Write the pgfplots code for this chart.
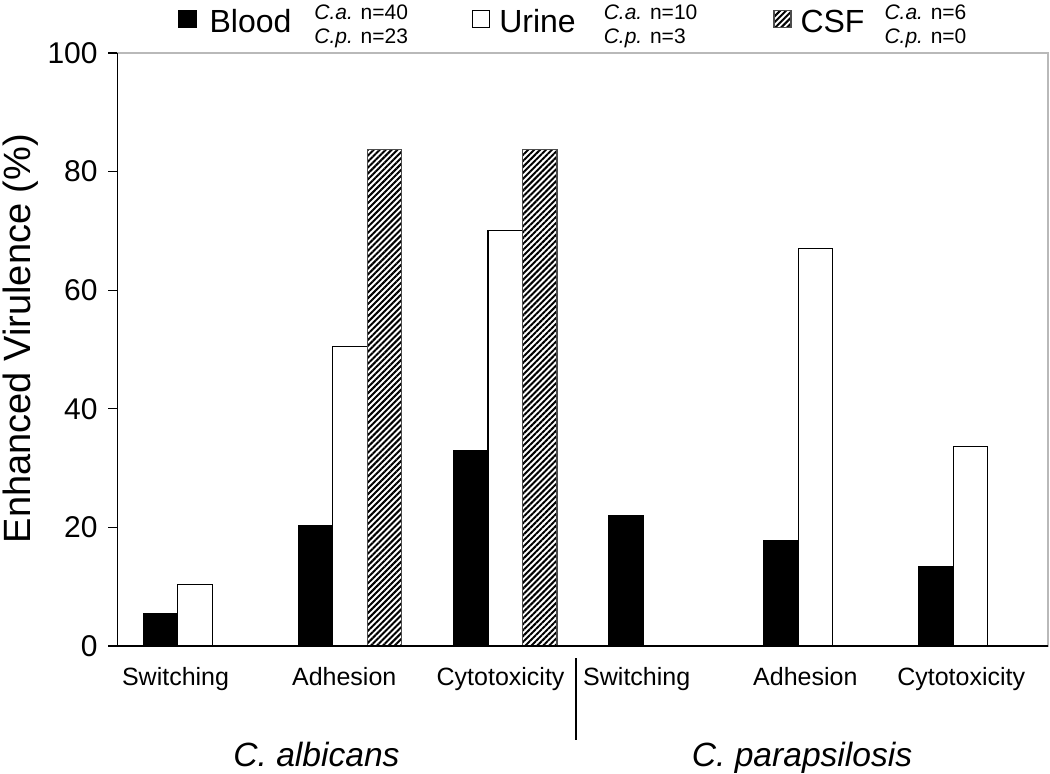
\documentclass[border=0pt]{standalone}
\usepackage{fontspec}
\setmainfont{Liberation Sans}
\usepackage{pgfplots}
\pgfplotsset{compat=1.18}
\usetikzlibrary{patterns.meta}
\newcommand\nlab[2]{{\fontsize{10.5}{12}\selectfont\begin{tabular}{@{}l@{}}\textit{C.a.} n=#1\\\textit{C.p.} n=#2\end{tabular}}}
\begin{document}
\begin{tikzpicture}
\begin{axis}[
 name=ax,
 scale only axis,
 width=465.25pt, height=296.5pt,
 xmin=-0.5, xmax=5.5, ymin=0, ymax=100,
 xtick=\empty,
 ytick={0,20,40,60,80,100},
 ytick pos=left,
 tick align=outside,
 major tick length=4.5pt,
 y tick style={black, line width=0.6pt},
 axis line style={draw=gray!55, line width=0.8pt},
 /pgf/number format/assume math mode=true,
 yticklabel style={font=\fontsize{15}{17}\selectfont, anchor=east, inner sep=0pt, xshift=-5.25pt},
 ylabel={Enhanced Virulence (\%)},
 ylabel style={font=\fontsize{19}{21}\selectfont, at={(rel axis cs:-0.1045,0.5186)}, anchor=center},
 ybar, bar width=0.2224,
 clip=false,
 legend columns=3,
 legend image code/.code={\draw[#1] (0pt,-4.1pt) rectangle (8.5pt,4.4pt);},
 legend style={draw=none, fill=none, inner sep=0pt, column sep=0pt, nodes={inner sep=0pt},
   font=\fontsize{16}{19}\selectfont, at={(rel axis cs:0,1)}, anchor=west, xshift=30.25pt, yshift=16.9pt},
]
\addplot[fill=black, draw=black, line width=0.6pt, bar shift=-0.2224]
  coordinates {(0,5.4) (1,20.3) (2,32.9) (3,22.0) (4,17.7) (5,13.4)};
\addlegendentry{\makebox[137.75pt][l]{\hspace{6.5pt}Blood\hspace{11.5pt}\nlab{40}{23}}}
\addplot[fill=white, draw=black, line width=0.6pt, bar shift=0]
  coordinates {(0,10.4) (1,50.5) (2,70.1) (4,67.0) (5,33.7)};
\addlegendentry{\makebox[141.5pt][l]{\hspace{4.5pt}Urine\hspace{14pt}\nlab{10}{3}}}
\addplot[pattern={Lines[angle=45,distance=2.1pt,line width=1pt]}, pattern color=black, draw=black!70, line width=0.6pt, bar shift=0.2224]
  coordinates {(1,83.7) (2,83.7)};
\addlegendentry{\hspace{4.5pt}CSF\hspace{10pt}\nlab{6}{0}}
\draw[black, line width=0.8pt] (rel axis cs:0,1) -- (rel axis cs:0,0) -- (rel axis cs:1,0);
\node[anchor=base, yshift=-19.75pt, font=\fontsize{12.5}{15}\selectfont] at (axis cs:-0.1257,0) {Switching};
\node[anchor=base, yshift=-19.75pt, font=\fontsize{12.5}{15}\selectfont] at (axis cs:0.962,0) {Adhesion};
\node[anchor=base, yshift=-19.75pt, font=\fontsize{12.5}{15}\selectfont] at (axis cs:1.970,0) {Cytotoxicity};
\node[anchor=base, yshift=-19.75pt, font=\fontsize{12.5}{15}\selectfont] at (axis cs:2.848,0) {Switching};
\node[anchor=base, yshift=-19.75pt, font=\fontsize{12.5}{15}\selectfont] at (axis cs:3.935,0) {Adhesion};
\node[anchor=base, yshift=-19.75pt, font=\fontsize{12.5}{15}\selectfont] at (axis cs:4.940,0) {Cytotoxicity};
\draw[line width=1.2pt] (axis cs:2.4565,0) ++(0pt,-6pt) -- ++(0pt,-41pt);
\node[anchor=base, yshift=-60pt, font=\fontsize{16.8}{19}\selectfont\itshape] at (axis cs:0.783,0) {C. albicans};
\node[anchor=base, yshift=-60pt, font=\fontsize{16.8}{19}\selectfont\itshape] at (axis cs:3.914,0) {C. parapsilosis};
\end{axis}
\pgfresetboundingbox
\path[use as bounding box] ([shift={(-58.75pt,-63.5pt)}]ax.south west) rectangle ([shift={(1pt,26.5pt)}]ax.north east);
\end{tikzpicture}
\end{document}
